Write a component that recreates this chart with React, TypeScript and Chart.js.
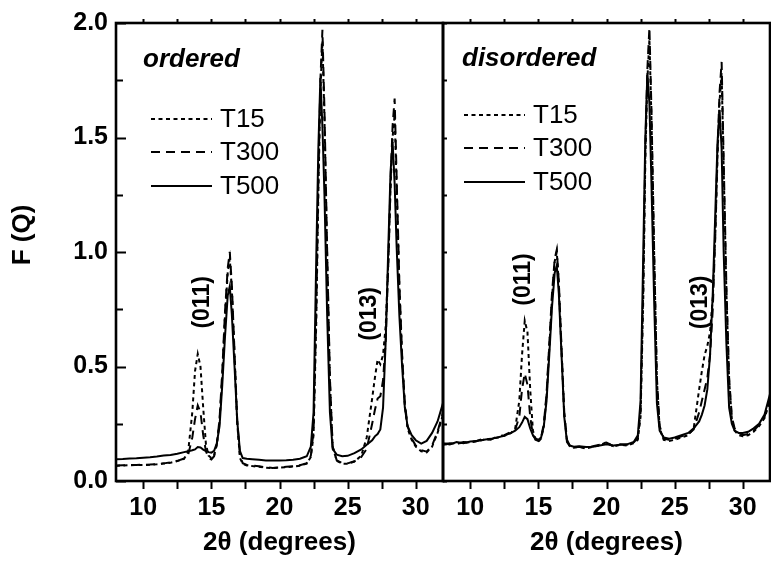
import { useEffect, useRef } from "react";
import { Chart, registerables } from "chart.js";

Chart.register(...registerables);

const FONT = '"Liberation Sans", Arial, Helvetica, sans-serif';

// 2θ sampling grid (degrees), shared by every curve
const twoTheta = [
  8, 8.5, 9, 9.5, 10, 10.5, 11, 11.5, 12, 12.5, 13,
  13.3, 13.6, 13.8, 14.0, 14.2, 14.4, 14.6, 14.8, 15.0,
  15.2, 15.4, 15.6, 15.8, 16.0, 16.2, 16.35, 16.5, 16.7, 16.9,
  17.1, 17.3, 17.6, 18, 18.5, 19, 19.5, 20, 20.5, 21, 21.5, 22,
  22.3, 22.5, 22.7, 22.85, 23.0, 23.15, 23.3, 23.5, 23.7, 23.9,
  24.2, 24.6, 25, 25.5, 26, 26.4, 26.8, 27.0, 27.2, 27.4, 27.6, 27.8, 28.0, 28.15,
  28.3, 28.45, 28.6, 28.8, 29.0, 29.2, 29.4, 29.7, 30.0, 30.4, 30.8, 31.2, 31.6, 32,
];

// ordered panel
const orderedT15 = [
  0.066, 0.068, 0.069, 0.07, 0.07, 0.071, 0.073, 0.076, 0.08, 0.087, 0.097,
  0.13, 0.3, 0.48, 0.555, 0.5, 0.32, 0.16, 0.11, 0.1,
  0.112, 0.16, 0.26, 0.46, 0.72, 0.91, 0.97, 0.84, 0.55, 0.25,
  0.1, 0.075, 0.068, 0.065, 0.062, 0.058, 0.056, 0.058, 0.06, 0.063, 0.067, 0.076,
  0.105, 0.2, 0.7, 1.25, 1.7, 1.92, 1.58, 0.98, 0.44, 0.15,
  0.088, 0.076, 0.075, 0.085, 0.11, 0.19, 0.36, 0.45, 0.53, 0.51, 0.55, 0.68, 0.98, 1.28,
  1.5, 1.6, 1.28, 0.84, 0.54, 0.33, 0.23, 0.18, 0.15, 0.13, 0.125, 0.15, 0.21, 0.29,
];
const orderedT300 = [
  0.068, 0.069, 0.07, 0.07, 0.071, 0.072, 0.074, 0.077, 0.081, 0.088, 0.098,
  0.115, 0.19, 0.27, 0.33, 0.3, 0.2, 0.13, 0.1, 0.094,
  0.108, 0.16, 0.27, 0.48, 0.74, 0.93, 1.0, 0.86, 0.56, 0.26,
  0.11, 0.078, 0.07, 0.067, 0.064, 0.06, 0.057, 0.059, 0.062, 0.064, 0.069, 0.078,
  0.11, 0.22, 0.75, 1.3, 1.75, 1.97, 1.62, 1.0, 0.45, 0.15,
  0.09, 0.078, 0.077, 0.086, 0.105, 0.14, 0.25, 0.31, 0.36, 0.37, 0.44, 0.62, 0.97, 1.3,
  1.55, 1.67, 1.32, 0.86, 0.55, 0.34, 0.24, 0.185, 0.155, 0.135, 0.128, 0.155, 0.215, 0.3,
];
const orderedT500 = [
  0.095, 0.096, 0.098, 0.099, 0.102, 0.104, 0.107, 0.111, 0.114, 0.119, 0.126,
  0.13, 0.134, 0.138, 0.148, 0.146, 0.137, 0.131, 0.126, 0.124,
  0.132, 0.165, 0.24, 0.42, 0.63, 0.81, 0.85, 0.73, 0.5, 0.26,
  0.13, 0.1, 0.097, 0.095, 0.093, 0.09, 0.089, 0.09, 0.091, 0.093, 0.097, 0.108,
  0.15, 0.3, 0.98, 1.45, 1.76, 1.55, 1.25, 0.72, 0.3, 0.14,
  0.115, 0.108, 0.11, 0.122, 0.138, 0.158, 0.178, 0.195, 0.205, 0.225, 0.32, 0.62, 1.05, 1.35,
  1.48, 1.3, 1.02, 0.72, 0.5, 0.32, 0.24, 0.2, 0.178, 0.163, 0.175, 0.21, 0.26, 0.34,
];

// disordered panel
const disorderedT15 = [
  0.158, 0.163, 0.165, 0.166, 0.17, 0.174, 0.18, 0.183, 0.19, 0.197, 0.21,
  0.23, 0.35, 0.55, 0.7, 0.65, 0.4, 0.22, 0.18, 0.172,
  0.185, 0.24, 0.37, 0.58, 0.8, 0.96, 1.0, 0.86, 0.57, 0.29,
  0.175, 0.152, 0.145, 0.148, 0.142, 0.15, 0.155, 0.17, 0.15, 0.158, 0.155, 0.165,
  0.18, 0.28, 0.8, 1.4, 1.75, 1.93, 1.58, 0.98, 0.44, 0.23,
  0.18, 0.175, 0.18, 0.19, 0.2, 0.23, 0.4, 0.48, 0.55, 0.59, 0.65, 0.8, 1.1, 1.42,
  1.66, 1.78, 1.36, 0.82, 0.44, 0.27, 0.22, 0.2, 0.195, 0.2, 0.215, 0.24, 0.275, 0.35,
];
const disorderedT300 = [
  0.16, 0.165, 0.162, 0.17, 0.168, 0.176, 0.185, 0.18, 0.195, 0.2, 0.215,
  0.225, 0.28, 0.4, 0.47, 0.42, 0.28, 0.2, 0.18, 0.175,
  0.19, 0.25, 0.38, 0.6, 0.82, 0.97, 1.01, 0.87, 0.58, 0.3,
  0.18, 0.155, 0.148, 0.15, 0.145, 0.152, 0.158, 0.168, 0.152, 0.16, 0.158, 0.168,
  0.19, 0.3, 0.85, 1.45, 1.8, 1.98, 1.62, 1.0, 0.45, 0.24,
  0.185, 0.18, 0.185, 0.195, 0.205, 0.225, 0.3, 0.35, 0.4, 0.45, 0.55, 0.75, 1.1, 1.45,
  1.7, 1.83, 1.4, 0.85, 0.45, 0.28, 0.23, 0.21, 0.2, 0.205, 0.22, 0.245, 0.28, 0.36,
];
const disorderedT500 = [
  0.165, 0.16, 0.17, 0.165, 0.172, 0.175, 0.18, 0.184, 0.19, 0.198, 0.21,
  0.22, 0.235, 0.255, 0.28, 0.27, 0.23, 0.2, 0.186, 0.18,
  0.19, 0.24, 0.35, 0.55, 0.76, 0.91, 0.94, 0.82, 0.55, 0.28,
  0.17, 0.155, 0.15, 0.152, 0.148, 0.15, 0.155, 0.16, 0.155, 0.158, 0.16, 0.17,
  0.2, 0.35, 1.0, 1.5, 1.78, 1.65, 1.3, 0.78, 0.34, 0.22,
  0.19, 0.185, 0.19, 0.2, 0.21, 0.23, 0.26, 0.29, 0.33, 0.4, 0.55, 0.82, 1.2, 1.48,
  1.62, 1.45, 1.0, 0.6, 0.32, 0.25, 0.22, 0.21, 0.21, 0.215, 0.23, 0.25, 0.29, 0.38,
];

const seriesLabels = ["T15", "T300", "T500"];
const seriesDash = [[4, 3.5], [9, 6], []];
const xTickValues = [10, 15, 20, 25, 30];
const xTickMarks = [10, 12.5, 15, 17.5, 20, 22.5, 25, 27.5, 30];
const yTickValues = [0, 0.5, 1.0, 1.5, 2.0];
const yTickMarks = [0, 0.25, 0.5, 0.75, 1.0, 1.25, 1.5, 1.75, 2.0];
const peakLabels = ["(011)", "(013)"];
const orderedPeakAt = [[14.33, 0.78], [26.64, 0.73]];
const disorderedPeakAt = [[13.94, 0.88], [26.94, 0.78]];

const decorPlugin = {
  id: "decor",
  afterDraw(chart: any, _args: any, opts: any) {
    const ctx = chart.ctx as CanvasRenderingContext2D;
    const { left, right, top, bottom } = chart.chartArea;
    const xs = chart.scales.x;
    const ys = chart.scales.y;
    ctx.save();
    ctx.strokeStyle = "#000";
    ctx.fillStyle = "#000";
    ctx.lineWidth = 2;
    ctx.beginPath();
    for (const v of xTickMarks) {
      const px = Math.round(xs.getPixelForValue(v)) + 0.5;
      ctx.moveTo(px, bottom);
      ctx.lineTo(px, bottom + 8);
      ctx.moveTo(px, top);
      ctx.lineTo(px, top - 4);
    }
    for (const v of yTickMarks) {
      const py = Math.round(ys.getPixelForValue(v)) + 0.5;
      const major = yTickValues.includes(v);
      const len = opts.isLeft ? (major ? 10 : 7) : 4;
      ctx.moveTo(left, py);
      ctx.lineTo(left + len, py);
    }
    ctx.stroke();

    ctx.lineWidth = 2.6;
    ctx.strokeRect(left, top, right - left, bottom - top);

    ctx.font = `italic bold 26px ${FONT}`;
    ctx.textAlign = "left";
    ctx.textBaseline = "alphabetic";
    ctx.fillText(opts.name, left + opts.nameDx, top + opts.nameDy);

    chart.data.datasets.forEach((ds: any, i: number) => {
      const y = top + opts.legendRows[i];
      ctx.save();
      ctx.lineWidth = ds.borderWidth;
      ctx.setLineDash(ds.borderDash || []);
      ctx.beginPath();
      ctx.moveTo(left + opts.legendX0, y);
      ctx.lineTo(left + opts.legendX1, y);
      ctx.stroke();
      ctx.restore();
      ctx.font = `26px ${FONT}`;
      ctx.textAlign = "left";
      ctx.textBaseline = "middle";
      ctx.fillText(ds.label, left + opts.legendTextX, y + 1);
    });

    ctx.font = `bold 23px ${FONT}`;
    peakLabels.forEach((t, i) => {
      const [vx, vy] = opts.peaks[i];
      ctx.save();
      ctx.translate(xs.getPixelForValue(vx), ys.getPixelForValue(vy));
      ctx.rotate(-Math.PI / 2);
      ctx.textAlign = "center";
      ctx.textBaseline = "middle";
      ctx.fillText(t, 0, 0);
      ctx.restore();
    });

    if (opts.isLeft) {
      ctx.save();
      ctx.translate(23, 235);
      ctx.rotate(-Math.PI / 2);
      ctx.font = `bold 26px ${FONT}`;
      ctx.textAlign = "center";
      ctx.textBaseline = "middle";
      ctx.fillText("F (Q)", 0, 0);
      ctx.restore();
    }
    ctx.restore();
  },
};

function makePanel(canvas: HTMLCanvasElement, cfg: any) {
  const series = [cfg.t15, cfg.t300, cfg.t500];
  const datasets = series.map((arr: number[], i: number) => ({
    label: seriesLabels[i],
    data: twoTheta.map((x, j) => ({ x, y: arr[j] })),
    borderColor: "#000",
    borderWidth: 2,
    borderDash: seriesDash[i],
    pointRadius: 0,
    tension: 0,
    fill: false,
  }));
  return new Chart(canvas, {
    type: "line",
    data: { datasets },
    plugins: [decorPlugin],
    options: {
      animation: false,
      responsive: false,
      events: [],
      layout: {
        autoPadding: false,
        padding: { left: cfg.padLeft, right: cfg.padRight, top: 23, bottom: 0 },
      },
      plugins: {
        legend: { display: false },
        tooltip: { enabled: false },
        decor: cfg.decor,
      } as any,
      scales: {
        x: {
          type: "linear",
          min: 8,
          max: 32,
          afterBuildTicks: (s: any) => {
            s.ticks = xTickValues.map((v) => ({ value: v }));
          },
          afterFit: (s: any) => {
            s.height = 82;
          },
          grid: { display: false, drawTicks: false },
          border: { display: false },
          ticks: {
            color: "#000",
            padding: 12,
            maxRotation: 0,
            autoSkip: false,
            font: { family: FONT, size: 25, weight: "bold" },
            callback: (v: any) => String(v),
          },
          title: {
            display: true,
            text: "2θ (degrees)",
            color: "#000",
            font: { family: FONT, size: 26, weight: "bold" },
            padding: { top: 0, bottom: 5 },
          },
        },
        y: {
          type: "linear",
          min: 0,
          max: 2,
          display: cfg.showY,
          afterBuildTicks: (s: any) => {
            s.ticks = yTickValues.map((v) => ({ value: v }));
          },
          afterFit: (s: any) => {
            s.width = cfg.showY ? 116 : 0;
          },
          grid: { display: false, drawTicks: false },
          border: { display: false },
          ticks: {
            color: "#000",
            padding: 8,
            font: { family: FONT, size: 25, weight: "bold" },
            callback: (v: any) => Number(v).toFixed(1),
          },
        },
      },
    } as any,
  });
}

export default function App() {
  const leftRef = useRef<HTMLCanvasElement>(null);
  const rightRef = useRef<HTMLCanvasElement>(null);

  useEffect(() => {
    const left = makePanel(leftRef.current!, {
      t15: orderedT15,
      t300: orderedT300,
      t500: orderedT500,
      showY: true,
      padLeft: 0,
      padRight: 3,
      decor: {
        isLeft: true,
        name: "ordered",
        nameDx: 27,
        nameDy: 44,
        legendX0: 35,
        legendX1: 96,
        legendTextX: 104,
        legendRows: [96, 129, 163],
        peaks: orderedPeakAt,
      },
    });
    const right = makePanel(rightRef.current!, {
      t15: disorderedT15,
      t300: disorderedT300,
      t500: disorderedT500,
      showY: false,
      padLeft: 3,
      padRight: 1,
      decor: {
        isLeft: false,
        name: "disordered",
        nameDx: 19,
        nameDy: 43,
        legendX0: 21,
        legendX1: 82,
        legendTextX: 90,
        legendRows: [92, 125, 159],
        peaks: disorderedPeakAt,
      },
    });
    return () => {
      left.destroy();
      right.destroy();
    };
  }, []);

  return (
    <div
      style={{
        position: "fixed",
        left: 0,
        top: 0,
        width: 771,
        height: 563,
        background: "#fff",
        overflow: "hidden",
      }}
    >
      <canvas
        ref={leftRef}
        width={446}
        height={563}
        style={{ position: "absolute", left: 0, top: 0, width: 446, height: 563 }}
      />
      <canvas
        ref={rightRef}
        width={331}
        height={563}
        style={{ position: "absolute", left: 440, top: 0, width: 331, height: 563 }}
      />
    </div>
  );
}
